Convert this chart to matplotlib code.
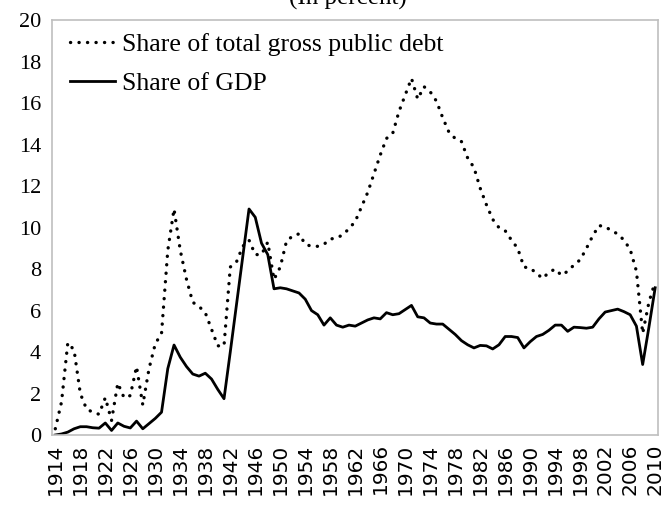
import matplotlib.pyplot as plt

years = list(range(1914, 2011))

# share of total gross public debt (in percent)
debt_share = [
    0.3, 1.6, 4.45, 4.1, 2.0, 1.25, 1.1, 1.0, 1.8, 0.7,          # 1914-1923
    2.5, 1.8, 1.9, 3.3, 1.45, 3.2, 4.4, 4.9, 8.9, 10.9,          # 1924-1933
    8.9, 7.5, 6.4, 6.2, 5.9, 5.1, 4.3, 4.3, 8.1, 8.35,           # 1934-1943
    9.1, 9.4, 8.7, 8.7, 9.3, 7.5, 8.1, 9.35, 9.6, 9.7,           # 1944-1953
    9.2, 9.1, 9.1, 9.2, 9.45, 9.5, 9.65, 9.95, 10.3, 11.0,       # 1954-1963
    11.7, 12.6, 13.5, 14.3, 14.55, 15.6, 16.4, 17.2, 16.2, 16.8, # 1964-1973
    16.55, 16.1, 15.3, 14.6, 14.3, 14.15, 13.35, 12.9, 11.9, 11.1, # 1974-1983
    10.4, 10.0, 9.85, 9.4, 9.0, 8.1, 8.05, 7.8, 7.55, 7.85,      # 1984-1993
    8.0, 7.7, 7.9, 8.2, 8.45, 9.0, 9.6, 10.1, 10.05, 9.85,       # 1994-2003
    9.7, 9.4, 8.95, 7.9, 4.9, 6.4, 7.4,                          # 2004-2010
]

# share of GDP (in percent)
gdp_share = [
    0.0, 0.05, 0.14, 0.3, 0.4, 0.4, 0.35, 0.33, 0.58, 0.22,      # 1914-1923
    0.58, 0.42, 0.34, 0.67, 0.3, 0.55, 0.8, 1.1, 3.2, 4.34,      # 1924-1933
    3.75, 3.3, 2.94, 2.84, 2.98, 2.7, 2.2, 1.75, 4.0, 6.3,       # 1934-1943
    8.6, 10.9, 10.5, 9.25, 8.7, 7.05, 7.1, 7.05, 6.95, 6.85,     # 1944-1953
    6.55, 6.0, 5.8, 5.3, 5.65, 5.3, 5.2, 5.3, 5.25, 5.4,         # 1954-1963
    5.55, 5.65, 5.6, 5.9, 5.8, 5.85, 6.05, 6.25, 5.7, 5.65,      # 1964-1973
    5.4, 5.35, 5.35, 5.1, 4.85, 4.55, 4.35, 4.2, 4.32, 4.3,      # 1974-1983
    4.15, 4.35, 4.75, 4.75, 4.7, 4.2, 4.5, 4.75, 4.85, 5.05,     # 1984-1993
    5.3, 5.3, 5.0, 5.2, 5.18, 5.15, 5.2, 5.6, 5.93, 6.0,         # 1994-2003
    6.07, 5.95, 5.8, 5.25, 3.4, 5.2, 7.1,                        # 2004-2010
]

tick_years = list(range(1914, 2011, 4))

plt.rcParams['font.family'] = ['Liberation Serif', 'DejaVu Serif']

fig = plt.figure(figsize=(6.69, 5.07), dpi=100)
ax = fig.add_axes([0.078, 0.142, 0.906, 0.818])

ax.plot(years, debt_share, color='black', lw=2.4, linestyle=(0, (0.05, 2.5)),
        dash_capstyle='round', label='Share of total gross public debt')
ax.plot(years, gdp_share, color='black', lw=2.0, label='Share of GDP')

ax.set_xlim(1913.5, 2010.5)
ax.set_ylim(0, 20)
ax.set_yticks(range(0, 21, 2))
ax.set_xticks(tick_years)
ax.set_xticklabels([str(y) for y in tick_years], rotation=90,
                   family='DejaVu Sans', fontsize=14.5)
ax.tick_params(axis='y', labelsize=16, length=0, pad=8)
ax.tick_params(axis='x', length=0, pad=6)
for s in ax.spines.values():
    s.set_color('#bfbfbf')
    s.set_linewidth(1.2)

ax.legend(loc='upper left', frameon=False, fontsize=18.5, handlelength=1.75,
          handletextpad=0.25, labelspacing=0.65, borderaxespad=0.0,
          bbox_to_anchor=(0.013, 0.995))

# title is cut off at the top edge of the image
fig.text(0.52, 1.003, '(In percent)', ha='center', va='center', fontsize=18)

fig.savefig('out.png', dpi=100)
